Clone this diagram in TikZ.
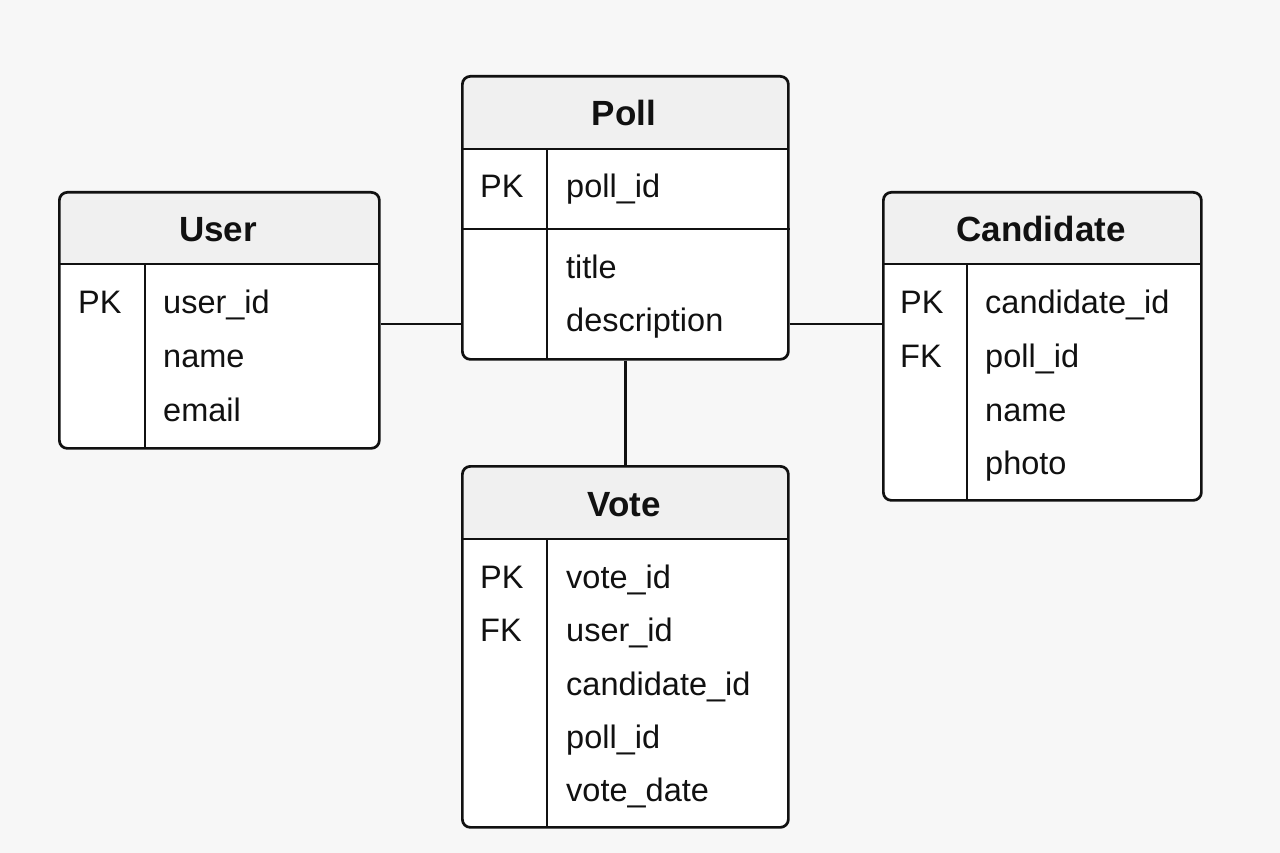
\documentclass[tikz,border=0pt]{standalone}
\usepackage{fontspec}
\setmainfont{Liberation Sans}
\definecolor{pagebg}{HTML}{F7F7F7}
\definecolor{headbg}{HTML}{F0F0F0}
\definecolor{ink}{HTML}{111111}
\tikzset{
  tablebox/.style={draw=ink, line width=2.7pt, rounded corners=8pt, anchor=north west, inner sep=0pt},
  headtext/.style={font=\fontsize{35}{42}\selectfont\bfseries, text=ink, anchor=base, inner sep=0pt},
  rowtext/.style={font=\fontsize{32.5}{39}\selectfont, text=ink, anchor=base west, inner sep=0pt},
  rule/.style={draw=ink, line width=2.7pt},
  link/.style={draw=ink, line width=2.9pt},
}
\begin{document}
\begin{tikzpicture}[x=1pt,y=-1pt]
    \fill[pagebg] (0,0) rectangle (1280,853);
    \useasboundingbox (0,0) rectangle (1280,853);
    % the four tables: box, header band, header rule, key column
    \foreach \nm/\xa/\ya/\xb/\yb/\hy/\dx in {
        user/58/191/378/447/264/145,
        poll/461/75/787/358/149/547,
        cand/882/191/1200/499/264/967,
        vote/461/465/787/826/539/547}{
        \fill[white, rounded corners=8pt] (\xa,\ya) rectangle (\xb,\yb);
        \begin{scope}
            \clip (\xa,\ya) rectangle (\xb,\hy);
            \fill[headbg, rounded corners=8pt] (\xa,\ya) rectangle (\xb,\yb);
        \end{scope}
        \draw[rule] (\xa,\hy) -- (\xb,\hy);
        \draw[rule] (\dx,\hy) -- (\dx,\yb);
        \node[tablebox, minimum width={(\xb-\xa)*1pt}, minimum height={(\yb-\ya)*1pt}] (\nm) at (\xa,\ya) {};
    }
    \draw[rule] (poll.west |- 0,229) -- (poll.east |- 0,229);
    % User
    \node[headtext] (userT) at (218,242) {User};
    \node[rowtext] (userPK) at (78,313) {PK};
    \foreach \y/\f [count=\i] in {313/user\_id, 367/name, 421/email}
        \node[rowtext] (user-\i) at (163,\y) {\f};
    % Poll
    \node[headtext] (pollT) at (624,126) {Poll};
    \node[rowtext] (pollPK) at (480,198) {PK};
    \foreach \y/\f [count=\i] in {198/poll\_id, 278/title, 331/description}
        \node[rowtext] (poll-\i) at (566,\y) {\f};
    % Candidate
    \node[headtext] (candT) at (1041,242) {Candidate};
    \node[rowtext] (candPK) at (900,313) {PK};
    \node[rowtext] (candFK) at (900,367) {FK};
    \foreach \y/\f [count=\i] in {313/candidate\_id, 367/poll\_id, 421/name, 474/photo}
        \node[rowtext] (cand-\i) at (985,\y) {\f};
    % Vote
    \node[headtext] (voteT) at (624,516) {Vote};
    \node[rowtext] (votePK) at (480,588) {PK};
    \node[rowtext] (voteFK) at (480,641) {FK};
    \foreach \y/\f [count=\i] in {588/vote\_id, 641/user\_id, 695/candidate\_id, 748/poll\_id, 801/vote\_date}
        \node[rowtext] (vote-\i) at (566,\y) {\f};
    % relations
    \coordinate (mid) at (0,324);
    \draw[link] (user.east |- mid) -- (poll.west |- mid);
    \draw[link] (poll.east |- mid) -- (cand.west |- mid);
    \draw[link] (poll.south) -- (vote.north);
\end{tikzpicture}
\end{document}
